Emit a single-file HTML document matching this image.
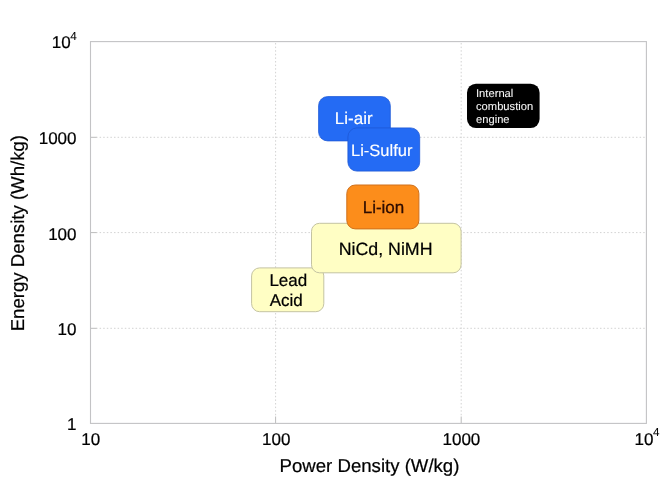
<!DOCTYPE html>
<html><head><meta charset="utf-8">
<style>
html,body{margin:0;padding:0;background:#fff;}
body{width:668px;height:501px;overflow:hidden;}
svg{display:block;will-change:transform;}
text{font-family:"Liberation Sans", sans-serif;text-rendering:geometricPrecision;}
</style></head>
<body>
<svg width="668" height="501" viewBox="0 0 668 501">
<rect x="0" y="0" width="668" height="501" fill="#fff"/>
<!-- grid -->
<g stroke="#d2d2d2" stroke-width="1" stroke-dasharray="1.5 2.1" fill="none">
<line x1="275.6" y1="43" x2="275.6" y2="417"/>
<line x1="461.2" y1="43" x2="461.2" y2="417"/>
<line x1="96" y1="137.3" x2="646" y2="137.3"/>
<line x1="96" y1="232.6" x2="646" y2="232.6"/>
<line x1="96" y1="328.3" x2="646" y2="328.3"/>
</g>
<!-- ticks -->
<g stroke="#bcbcbc" stroke-width="1">
<line x1="275.6" y1="416.5" x2="275.6" y2="423"/>
<line x1="461.2" y1="416.5" x2="461.2" y2="423"/>
<line x1="91" y1="137.3" x2="96.5" y2="137.3"/>
<line x1="91" y1="232.6" x2="96.5" y2="232.6"/>
<line x1="91" y1="328.3" x2="96.5" y2="328.3"/>
</g>
<!-- axes frame -->
<rect x="90.5" y="41.6" width="555.9" height="381.8" fill="none" stroke="#c3c3c5" stroke-width="1.1"/>
<!-- boxes -->
<rect x="251.6" y="267.9" width="72.2" height="43.8" rx="8" fill="#fffec4" stroke="#c4c3a2" stroke-width="1"/>
<rect x="311.5" y="223.3" width="149.6" height="49.5" rx="8" fill="#fffec4" stroke="#c4c3a2" stroke-width="1"/>
<rect x="346.8" y="185" width="72.1" height="43.9" rx="8.5" fill="#fc8d1b" stroke="#cf711c" stroke-width="1"/>
<rect x="318.6" y="96.6" width="71.7" height="44.3" rx="9" fill="#246bf4" stroke="#1d58d6" stroke-width="0.8"/>
<rect x="347.9" y="127.9" width="71.8" height="43.2" rx="9" fill="#246bf4" stroke="#1d58d6" stroke-width="0.8"/>
<rect x="467" y="83.7" width="72.6" height="44.4" rx="9" fill="#000"/>
<!-- box text: white -->
<g fill="#fff" stroke="#fff" stroke-width="0.15" text-anchor="middle">
<text x="353.7" y="124.4" font-size="17">Li-air</text>
<text x="381.7" y="156" font-size="16.5">Li-Sulfur</text>
</g>
<g font-size="11.2" fill="#f2f2f2" stroke="#f2f2f2" stroke-width="0.08">
<text x="476" y="97">Internal</text>
<text x="476" y="110">combustion</text>
<text x="476" y="123">engine</text>
</g>
<!-- dark text -->
<g fill="#000" stroke="#000" stroke-width="0.22">
<text x="383.5" y="212.9" font-size="17" fill="#2e0c00" stroke="#2e0c00" stroke-width="0.3" text-anchor="middle">Li-ion</text>
<text x="385.6" y="255.2" font-size="17.8" text-anchor="middle">NiCd, NiMH</text>
<text x="288.3" y="286.1" font-size="17" text-anchor="middle">Lead</text>
<text x="286.2" y="305.9" font-size="17" text-anchor="middle">Acid</text>
<!-- y tick labels -->
<g font-size="17" text-anchor="end">
<text x="76.5" y="143.7">1000</text>
<text x="76.5" y="239.5">100</text>
<text x="76.5" y="335.2">10</text>
<text x="76.5" y="429.9">1</text>
</g>
<text x="51.8" y="48.3" font-size="17">10</text>
<text x="70.3" y="40.4" font-size="11.6" stroke-width="0.1">4</text>
<!-- x tick labels -->
<g font-size="17" text-anchor="middle">
<text x="90.8" y="444.6">10</text>
<text x="276.3" y="444.6">100</text>
<text x="461.4" y="444.6">1000</text>
</g>
<text x="634.6" y="444.6" font-size="17">10</text>
<text x="652.9" y="435.9" font-size="11.6" stroke-width="0.1">4</text>
<!-- axis titles -->
<text x="369.5" y="472.3" font-size="18.6" text-anchor="middle">Power Density (W/kg)</text>
<text transform="translate(24.4,233.2) rotate(-90)" font-size="18.6" text-anchor="middle">Energy Density (Wh/kg)</text>
</g>
</svg>
</body></html>
